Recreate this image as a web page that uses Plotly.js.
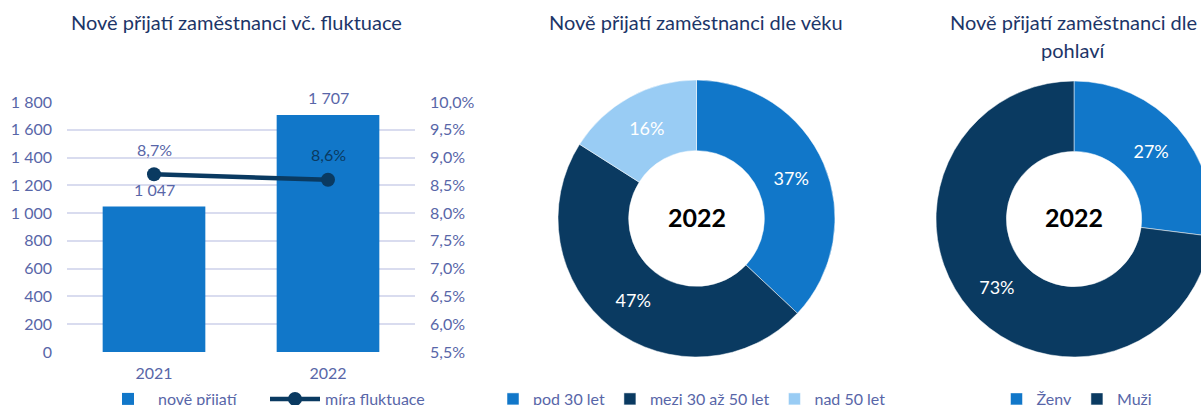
<!DOCTYPE html>
<html><head><meta charset="utf-8">
<script src="https://cdn.plot.ly/plotly-3.0.1.min.js"></script>
<style>html,body{margin:0;padding:0;overflow:hidden;background:#fff}#chart{width:1230px;height:405px}</style>
</head><body><div id="chart"></div>
<script>
// ---- data ----
const years = ['2021', '2022'];
const hires = [1047, 1707];
const turnover = [0.087, 0.086];
const ageLabels = ['pod 30 let', 'mezi 30 až 50 let', 'nad 50 let'];
const ageShares = [37, 47, 16];
const genderLabels = ['Ženy', 'Muži'];
const genderShares = [27, 73];
const centerYear = '2022';
const titleLeft = 'Nově přijatí zaměstnanci vč. fluktuace';
const titleAge = 'Nově přijatí zaměstnanci dle věku';
const titleGender1 = 'Nově přijatí zaměstnanci dle';
const titleGender2 = 'pohlaví';

// ---- style ----
const W = 1230, H = 405;
const px = v => v / W;
const py = v => 1 - v / H;
const FONT = 'Lato, "Noto Sans", sans-serif';
const TICK = '#5866a8';
const TITLE = '#1c3568';
const MID = '#1177c9';
const DARK = '#0a3a61';
const LIGHT = '#99ccf4';
const GRID = '#d9dcef';
const rateLabelColors = [TICK, DARK];

const traces = [
  {
    type: 'bar', x: years, y: hires, name: 'nově přijatí',
    marker: {color: MID}, xaxis: 'x', yaxis: 'y', legend: 'legend', hoverinfo: 'skip'
  },
  {
    type: 'scatter', mode: 'lines+markers', x: years, y: turnover, name: 'míra fluktuace',
    line: {color: DARK, width: 4.5}, marker: {color: DARK, size: 14},
    xaxis: 'x', yaxis: 'y2', legend: 'legend', cliponaxis: false, hoverinfo: 'skip'
  },
  {
    type: 'pie', labels: ageLabels, values: ageShares, hole: 0.49, sort: false,
    direction: 'clockwise', rotation: 0,
    marker: {colors: [MID, DARK, LIGHT], line: {color: '#ffffff', width: 0.5}},
    textinfo: 'percent', texttemplate: '%{percent:.0%}', textposition: 'inside',
    insidetextorientation: 'horizontal',
    insidetextfont: {color: '#ffffff', size: 18, family: FONT},
    domain: {x: [px(558), px(835)], y: [py(357), py(80)]},
    legend: 'legend2', hoverinfo: 'skip'
  },
  {
    type: 'pie', labels: genderLabels, values: genderShares, hole: 0.49, sort: false,
    direction: 'clockwise', rotation: 0,
    marker: {colors: [MID, DARK], line: {color: '#ffffff', width: 0.5}},
    textinfo: 'percent', texttemplate: '%{percent:.0%}', textposition: 'inside',
    insidetextorientation: 'horizontal',
    insidetextfont: {color: '#ffffff', size: 18, family: FONT},
    domain: {x: [px(936), px(1212)], y: [py(357), py(81)]},
    legend: 'legend3', hoverinfo: 'skip'
  }
];

const fmtPct = v => (v * 100).toFixed(1).replace('.', ',') + '%';
const fmtInt = v => String(v).replace(/\B(?=(\d{3})+(?!\d))/g, ' ');
const annotations = [];
years.forEach((yr, i) => {
  annotations.push({x: i, y: turnover[i], xref: 'x', yref: 'y2', text: fmtPct(turnover[i]),
    showarrow: false, yshift: 25, yanchor: 'middle', font: {color: rateLabelColors[i], size: 16, family: FONT}});
  annotations.push({x: i, y: hires[i], xref: 'x', yref: 'y', text: fmtInt(hires[i]),
    showarrow: false, yshift: 17, yanchor: 'middle', font: {color: TICK, size: 16, family: FONT}});
});
const ttl = (text, x, y) => ({text, x: px(x), y: py(y), xref: 'paper', yref: 'paper',
  showarrow: false, xanchor: 'center', yanchor: 'middle', font: {color: TITLE, size: 20, family: FONT}});
annotations.push(ttl(titleLeft, 236, 22));
annotations.push(ttl(titleAge, 696, 22));
annotations.push(ttl(titleGender1, 1073, 22));
annotations.push(ttl(titleGender2, 1073, 50));
const ctr = x => ({text: centerYear, x: px(x), y: py(217), xref: 'paper', yref: 'paper',
  showarrow: false, xanchor: 'center', yanchor: 'middle',
  font: {color: '#000000', size: 25, family: FONT, weight: 700}});
annotations.push(ctr(696.5));
annotations.push(ctr(1074));

const legFont = {color: TICK, size: 16, family: FONT};
const layout = {
  width: W, height: H, margin: {l: 0, r: 0, t: 0, b: 0, autoexpand: false},
  paper_bgcolor: '#ffffff', plot_bgcolor: '#ffffff',
  separators: ', ',
  font: {family: FONT, color: TICK},
  bargap: 0.41,
  showlegend: true,
  xaxis: {domain: [px(67), px(415)], type: 'category', showgrid: false, zeroline: false,
    showline: false, ticks: '', tickfont: {size: 16, color: TICK}, ticklabelstandoff: 10, fixedrange: true},
  yaxis: {domain: [py(352), py(102)], range: [0, 1800], tickvals: [0,200,400,600,800,1000,1200,1400,1600,1800],
    tickformat: ',.0f', showgrid: true, gridcolor: GRID, gridwidth: 2, zeroline: false, showline: false,
    ticks: '', tickfont: {size: 16, color: TICK}, ticklabelstandoff: 14, fixedrange: true},
  yaxis2: {domain: [py(352), py(102)], overlaying: 'y', side: 'right', range: [0.055, 0.10], dtick: 0.005,
    tick0: 0.055, tickformat: '.1%', showgrid: false, zeroline: false, showline: false, ticks: '',
    tickfont: {size: 16, color: TICK}, ticklabelstandoff: 14, fixedrange: true},
  legend: {orientation: 'h', x: px(98), xanchor: 'left', y: py(399), yanchor: 'middle', font: legFont,
    bgcolor: 'rgba(0,0,0,0)', traceorder: 'normal', itemwidth: 50, entrywidth: 102,
    entrywidthmode: 'pixels', itemclick: false},
  legend2: {orientation: 'h', x: px(692), xanchor: 'center', y: py(399), yanchor: 'middle', font: legFont,
    bgcolor: 'rgba(0,0,0,0)', itemclick: false},
  legend3: {orientation: 'h', x: px(1077), xanchor: 'center', y: py(399), yanchor: 'middle', font: legFont,
    bgcolor: 'rgba(0,0,0,0)', itemclick: false},
  annotations
};
Plotly.newPlot('chart', traces, layout, {displayModeBar: false, staticPlot: true});
</script>
</body></html>
